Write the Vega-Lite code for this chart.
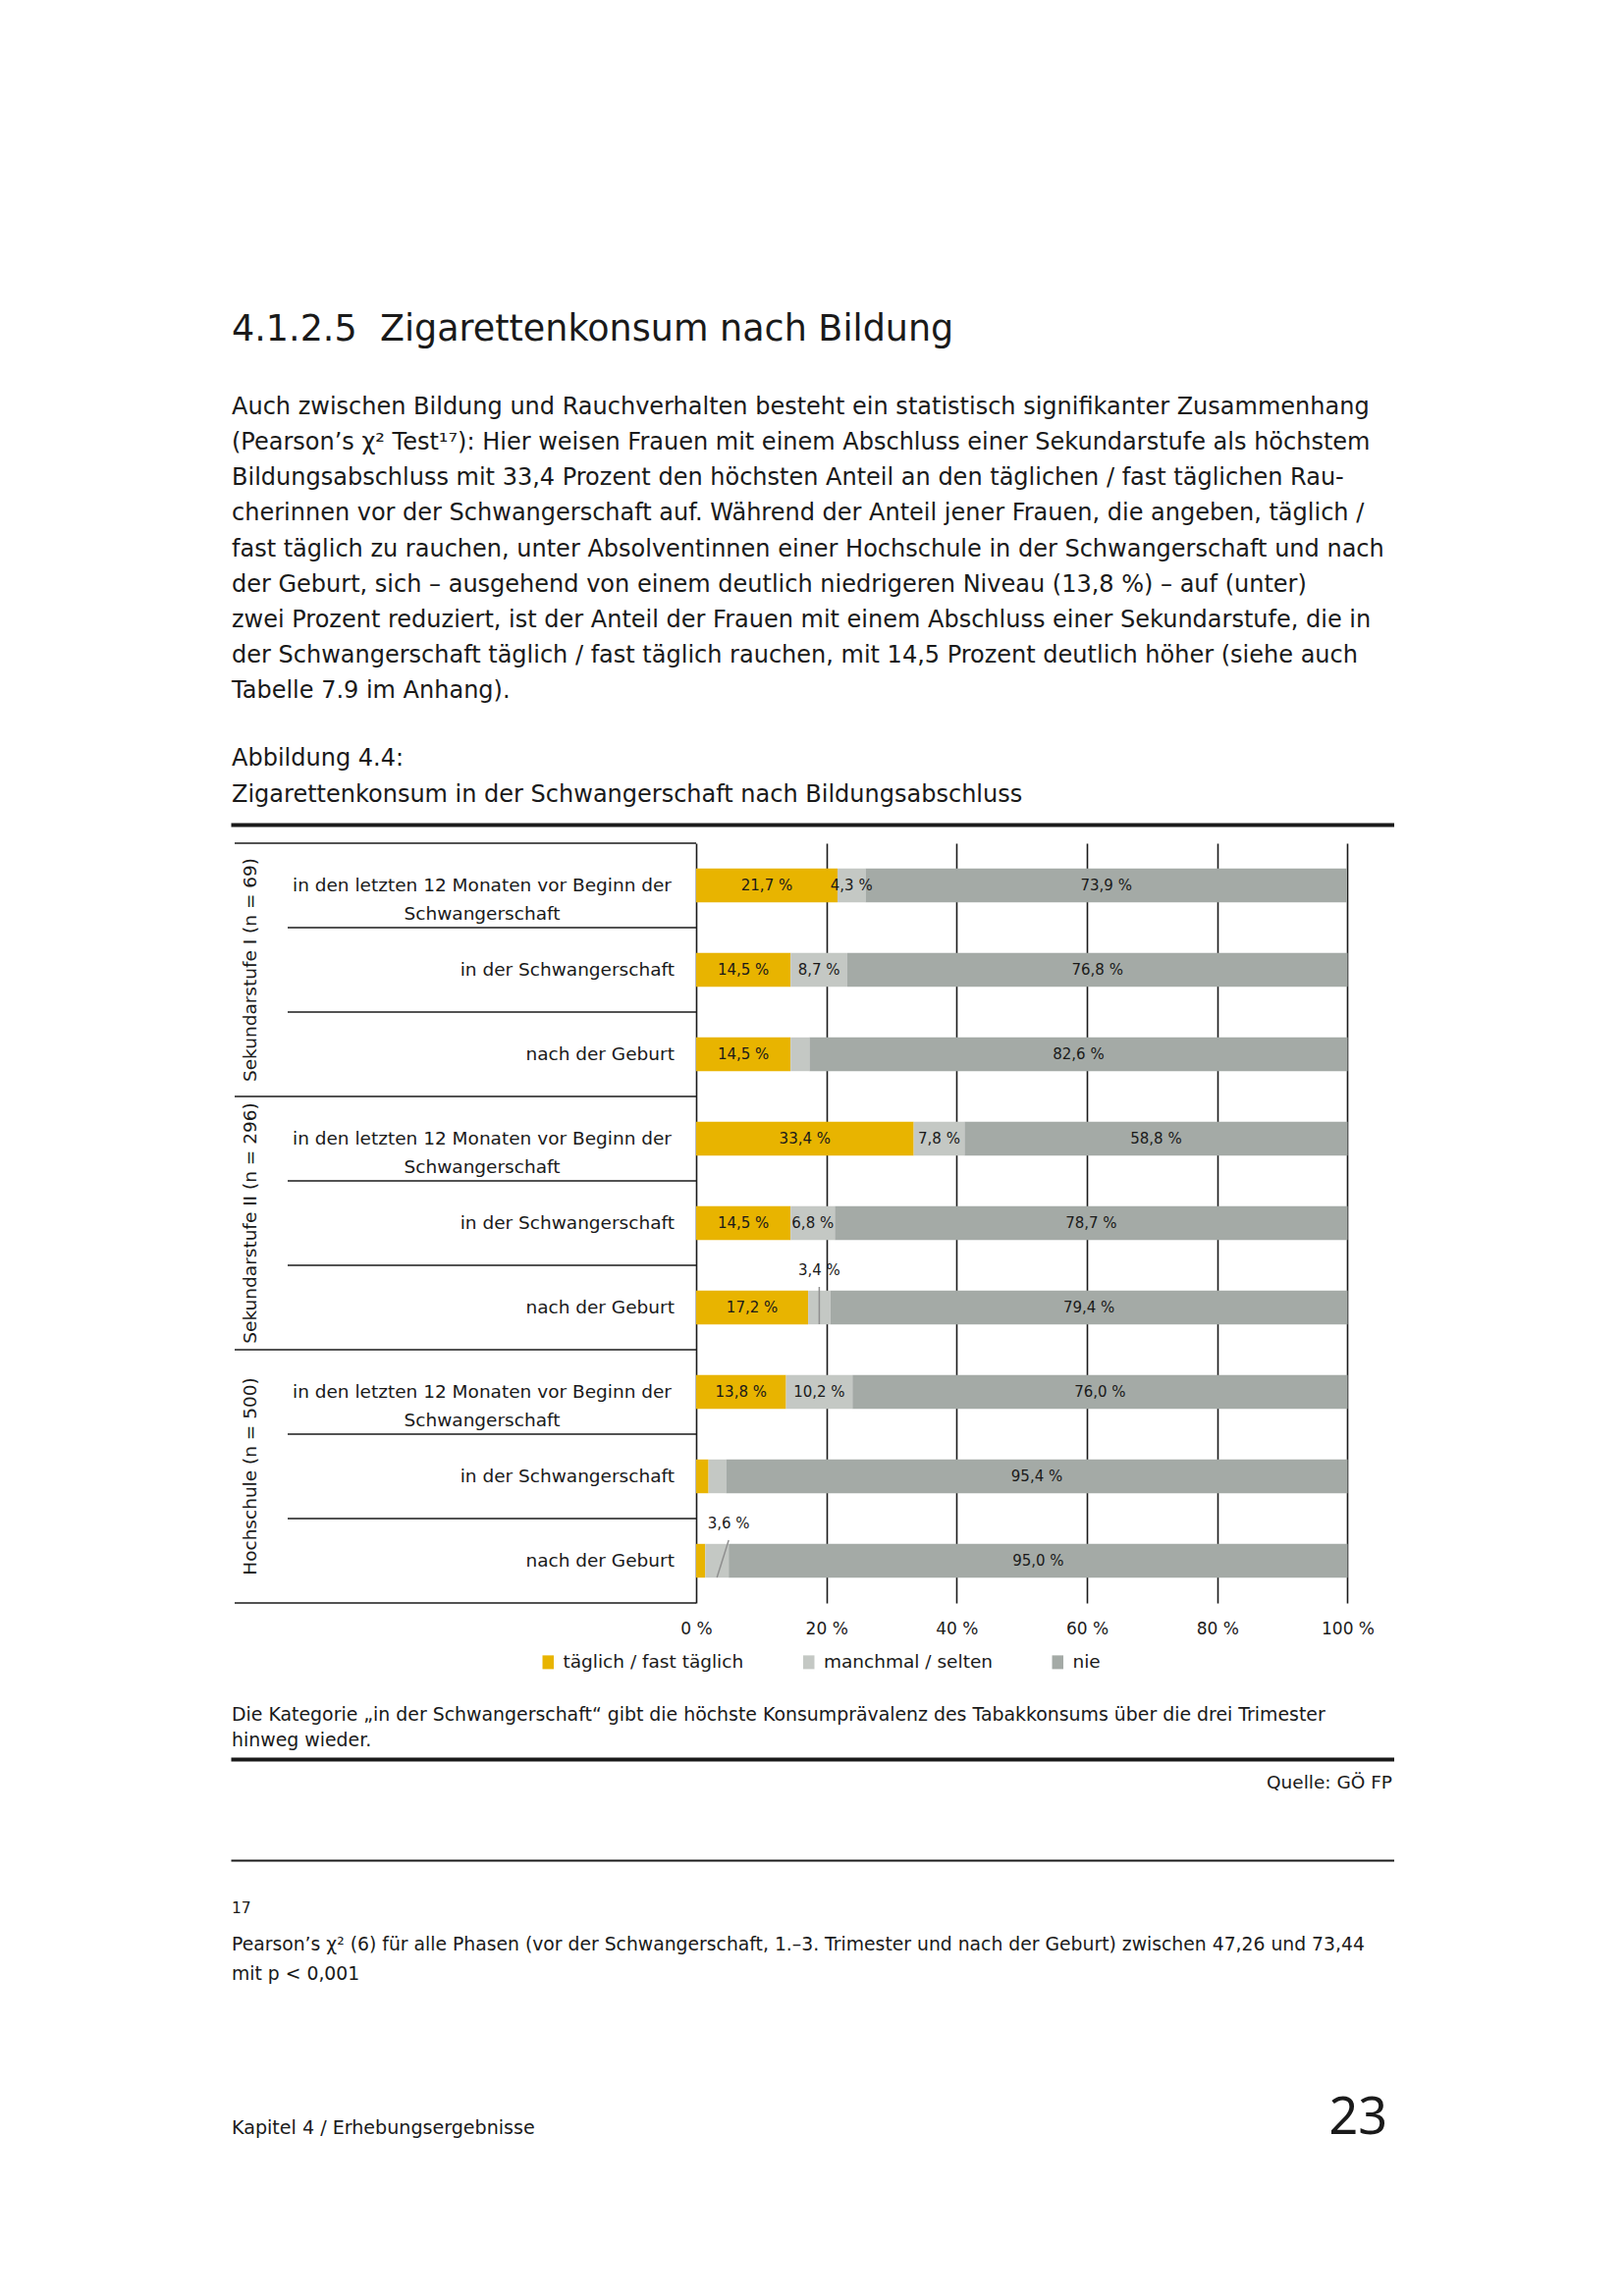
{
  "$schema": "https://vega.github.io/schema/vega-lite/v6.json",
  "background": "white",
  "padding": {"left": 235, "top": 300, "right": 0, "bottom": 0},
  "spacing": 0,
  "bounds": "flush",
  "config": {
    "view": {"stroke": null},
    "font": "DejaVu Sans",
    "text": {"font": "DejaVu Sans", "color": "#1a1a1a"},
    "axis": {"domainColor": "#1a1a1a", "labelFont": "DejaVu Sans", "labelColor": "#1a1a1a"},
    "legend": {"labelFont": "DejaVu Sans", "labelColor": "#1a1a1a"}
  },
  "datasets": {
    "heading": [{"line": 0, "text": "4.1.2.5\u00a0 Zigarettenkonsum nach Bildung"}],
    "body": [
      {"line": 0, "text": "Auch zwischen Bildung und Rauchverhalten besteht ein statistisch signifikanter Zusammenhang"},
      {"line": 1, "text": "(Pearson’s χ² Test¹⁷): Hier weisen Frauen mit einem Abschluss einer Sekundarstufe als höchstem"},
      {"line": 2, "text": "Bildungsabschluss mit 33,4 Prozent den höchsten Anteil an den täglichen / fast täglichen Rau-"},
      {"line": 3, "text": "cherinnen vor der Schwangerschaft auf. Während der Anteil jener Frauen, die angeben, täglich /"},
      {"line": 4, "text": "fast täglich zu rauchen, unter Absolventinnen einer Hochschule in der Schwangerschaft und nach"},
      {"line": 5, "text": "der Geburt, sich – ausgehend von einem deutlich niedrigeren Niveau (13,8 %) – auf (unter)"},
      {"line": 6, "text": "zwei Prozent reduziert, ist der Anteil der Frauen mit einem Abschluss einer Sekundarstufe, die in"},
      {"line": 7, "text": "der Schwangerschaft täglich / fast täglich rauchen, mit 14,5 Prozent deutlich höher (siehe auch"},
      {"line": 8, "text": "Tabelle 7.9 im Anhang)."}
    ],
    "caption": [
      {"line": 0, "text": "Abbildung 4.4:"},
      {"line": 1, "text": "Zigarettenkonsum in der Schwangerschaft nach Bildungsabschluss"}
    ],
    "rows": [
      {"row": "S1-1", "pos": 1, "group": "Sekundarstufe I (n = 69)", "phase": "in den letzten 12 Monaten vor Beginn der\nSchwangerschaft"},
      {"row": "S1-2", "pos": 2, "group": "Sekundarstufe I (n = 69)", "phase": "in der Schwangerschaft"},
      {"row": "S1-3", "pos": 3, "group": "Sekundarstufe I (n = 69)", "phase": "nach der Geburt"},
      {"row": "S2-1", "pos": 1, "group": "Sekundarstufe II (n = 296)", "phase": "in den letzten 12 Monaten vor Beginn der\nSchwangerschaft"},
      {"row": "S2-2", "pos": 2, "group": "Sekundarstufe II (n = 296)", "phase": "in der Schwangerschaft"},
      {"row": "S2-3", "pos": 3, "group": "Sekundarstufe II (n = 296)", "phase": "nach der Geburt"},
      {"row": "H-1", "pos": 1, "group": "Hochschule (n = 500)", "phase": "in den letzten 12 Monaten vor Beginn der\nSchwangerschaft"},
      {"row": "H-2", "pos": 2, "group": "Hochschule (n = 500)", "phase": "in der Schwangerschaft"},
      {"row": "H-3", "pos": 3, "group": "Hochschule (n = 500)", "phase": "nach der Geburt"}
    ],
    "bars": [
      {"row": "S1-1", "cat": "täglich / fast täglich", "k": 1, "value": 21.7, "label": "21,7 %"},
      {"row": "S1-1", "cat": "manchmal / selten", "k": 2, "value": 4.3, "label": "4,3 %"},
      {"row": "S1-1", "cat": "nie", "k": 3, "value": 73.9, "label": "73,9 %"},
      {"row": "S1-2", "cat": "täglich / fast täglich", "k": 1, "value": 14.5, "label": "14,5 %"},
      {"row": "S1-2", "cat": "manchmal / selten", "k": 2, "value": 8.7, "label": "8,7 %"},
      {"row": "S1-2", "cat": "nie", "k": 3, "value": 76.8, "label": "76,8 %"},
      {"row": "S1-3", "cat": "täglich / fast täglich", "k": 1, "value": 14.5, "label": "14,5 %"},
      {"row": "S1-3", "cat": "manchmal / selten", "k": 2, "value": 2.9, "label": ""},
      {"row": "S1-3", "cat": "nie", "k": 3, "value": 82.6, "label": "82,6 %"},
      {"row": "S2-1", "cat": "täglich / fast täglich", "k": 1, "value": 33.4, "label": "33,4 %"},
      {"row": "S2-1", "cat": "manchmal / selten", "k": 2, "value": 7.8, "label": "7,8 %"},
      {"row": "S2-1", "cat": "nie", "k": 3, "value": 58.8, "label": "58,8 %"},
      {"row": "S2-2", "cat": "täglich / fast täglich", "k": 1, "value": 14.5, "label": "14,5 %"},
      {"row": "S2-2", "cat": "manchmal / selten", "k": 2, "value": 6.8, "label": "6,8 %"},
      {"row": "S2-2", "cat": "nie", "k": 3, "value": 78.7, "label": "78,7 %"},
      {"row": "S2-3", "cat": "täglich / fast täglich", "k": 1, "value": 17.2, "label": "17,2 %"},
      {"row": "S2-3", "cat": "manchmal / selten", "k": 2, "value": 3.4, "label": ""},
      {"row": "S2-3", "cat": "nie", "k": 3, "value": 79.4, "label": "79,4 %"},
      {"row": "H-1", "cat": "täglich / fast täglich", "k": 1, "value": 13.8, "label": "13,8 %"},
      {"row": "H-1", "cat": "manchmal / selten", "k": 2, "value": 10.2, "label": "10,2 %"},
      {"row": "H-1", "cat": "nie", "k": 3, "value": 76.0, "label": "76,0 %"},
      {"row": "H-2", "cat": "täglich / fast täglich", "k": 1, "value": 1.9, "label": ""},
      {"row": "H-2", "cat": "manchmal / selten", "k": 2, "value": 2.7, "label": ""},
      {"row": "H-2", "cat": "nie", "k": 3, "value": 95.4, "label": "95,4 %"},
      {"row": "H-3", "cat": "täglich / fast täglich", "k": 1, "value": 1.4, "label": ""},
      {"row": "H-3", "cat": "manchmal / selten", "k": 2, "value": 3.6, "label": ""},
      {"row": "H-3", "cat": "nie", "k": 3, "value": 95.0, "label": "95,0 %"}
    ],
    "callouts": [
      {"row": "S2-3", "label": "3,4 %", "top": 18.9, "foot": 18.9},
      {"row": "H-3", "label": "3,6 %", "top": 5.0, "foot": 3.2}
    ],
    "note": [
      {"line": 0, "text": "Die Kategorie „in der Schwangerschaft“ gibt die höchste Konsumprävalenz des Tabakkonsums über die drei Trimester"},
      {"line": 1, "text": "hinweg wieder."}
    ],
    "source": [{"line": 0, "text": "Quelle: GÖ FP"}],
    "fnnum": [{"line": 0, "text": "17"}],
    "footnote": [
      {"line": 0, "text": "Pearson’s χ² (6) für alle Phasen (vor der Schwangerschaft, 1.–3. Trimester und nach der Geburt) zwischen 47,26 und 73,44"},
      {"line": 1, "text": "mit p < 0,001"}
    ],
    "footer": [
      {"line": 0, "part": "chapter", "text": "Kapitel 4 / Erhebungsergebnisse"},
      {"line": 0, "part": "page", "text": "23"}
    ]
  },
  "vconcat": [
    {
      "width": 1185, "height": 72,
      "data": {"name": "heading"},
      "mark": {"type": "text", "align": "left", "baseline": "middle", "fontSize": 36.5, "dx": 1},
      "encoding": {
        "y": {"field": "line", "type": "quantitative", "axis": null, "scale": {"domain": [-0.5, 0.5], "reverse": true, "nice": false, "zero": false}},
        "x": {"datum": 0, "type": "quantitative", "axis": null, "scale": {"domain": [0, 1], "nice": false, "zero": false}},
        "text": {"field": "text"}
      }
    },
    {
      "width": 1185, "height": 375,
      "data": {"name": "body"},
      "mark": {"type": "text", "align": "left", "baseline": "middle", "fontSize": 24, "dx": 1},
      "encoding": {
        "y": {"field": "line", "type": "quantitative", "axis": null, "scale": {"domain": [-1.1902, 9.1898], "reverse": true, "nice": false, "zero": false}},
        "x": {"datum": 0, "type": "quantitative", "axis": null, "scale": {"domain": [0, 1], "nice": false, "zero": false}},
        "text": {"field": "text"}
      }
    },
    {
      "width": 1185, "height": 112,
      "data": {"name": "caption"},
      "mark": {"type": "text", "align": "left", "baseline": "middle", "fontSize": 24, "dx": 1},
      "encoding": {
        "y": {"field": "line", "type": "quantitative", "axis": null, "scale": {"domain": [-0.7027, 2.3243], "reverse": true, "nice": false, "zero": false}},
        "x": {"datum": 0, "type": "quantitative", "scale": {"domain": [0, 1], "nice": false, "zero": false},
              "axis": {"title": null, "labels": false, "ticks": false, "grid": false, "domain": true, "domainWidth": 4, "domainColor": "#1a1a1a", "offset": -19}},
        "text": {"field": "text"}
      }
    },
    {
      "width": 1185, "height": 774,
      "layer": [
        {
          "data": {"name": "bars"},
          "transform": [{"stack": "value", "groupby": ["row"], "sort": [{"field": "k", "order": "ascending"}], "as": ["x0", "x1"]}],
          "mark": {"type": "bar", "height": {"band": 0.4}},
          "encoding": {
            "y": {"field": "row", "type": "nominal", "axis": null,
                  "scale": {"domain": ["S1-1", "S1-2", "S1-3", "S2-1", "S2-2", "S2-3", "H-1", "H-2", "H-3"], "paddingInner": 0, "paddingOuter": 0}},
            "x": {"field": "x0", "type": "quantitative",
                  "scale": {"domain": [-71.44, 107.16], "nice": false, "zero": false},
                  "axis": {"values": [0, 20, 40, 60, 80, 100], "grid": true, "gridColor": "#1a1a1a", "gridWidth": 1.6, "domain": false, "ticks": false,
                           "labelExpr": "datum.value + ' %'", "labelFontSize": 17, "labelPadding": 18, "title": null,
                           "labelFlush": false, "labelOverlap": false, "labelBound": false}},
            "x2": {"field": "x1"},
            "color": {"field": "cat", "type": "nominal",
                      "scale": {"domain": ["täglich / fast täglich", "manchmal / selten", "nie"], "range": ["#E8B400", "#C4C8C4", "#A4AAA6"]},
                      "legend": {"orient": "none", "legendX": 314, "legendY": 1384, "direction": "horizontal", "title": null,
                                 "symbolType": "M-0.82,-1H0.82V1H-0.82Z", "symbolSize": 196, "symbolStrokeWidth": 0, "symbolOpacity": 1,
                                 "labelFontSize": 18.5, "labelOffset": 6, "labelLimit": 400, "columnPadding": 56.5, "padding": 0}}
          }
        },
        {
          "data": {"name": "bars"},
          "transform": [
            {"stack": "value", "groupby": ["row"], "sort": [{"field": "k", "order": "ascending"}], "as": ["x0", "x1"]},
            {"fold": ["x0", "x1"], "as": ["edge", "edgeValue"]},
            {"aggregate": [{"op": "mean", "field": "edgeValue", "as": "mid"}], "groupby": ["row", "cat", "label"]}
          ],
          "mark": {"type": "text", "align": "center", "baseline": "middle", "fontSize": 15},
          "encoding": {
            "y": {"field": "row", "type": "nominal"},
            "x": {"field": "mid", "type": "quantitative"},
            "text": {"field": "label"}
          }
        },
        {
          "data": {"name": "callouts"},
          "mark": {"type": "rule", "color": "#8f8f8f", "strokeWidth": 1.5, "yOffset": -21, "y2Offset": 17},
          "encoding": {
            "y": {"field": "row", "type": "nominal", "bandPosition": 0.5},
            "y2": {"field": "row", "bandPosition": 0.5},
            "x": {"field": "top", "type": "quantitative"},
            "x2": {"field": "foot"}
          }
        },
        {
          "data": {"name": "callouts"},
          "mark": {"type": "text", "align": "center", "baseline": "middle", "fontSize": 15, "yOffset": -38},
          "encoding": {
            "y": {"field": "row", "type": "nominal"},
            "x": {"field": "top", "type": "quantitative"},
            "text": {"field": "label"}
          }
        },
        {
          "data": {"name": "rows"},
          "transform": [{"filter": "datum.pos == 1"}],
          "mark": {"type": "rule", "color": "#1a1a1a", "strokeWidth": 1.6},
          "encoding": {
            "y": {"field": "row", "type": "nominal", "bandPosition": 0},
            "x": {"datum": -70.84},
            "x2": {"datum": 0}
          }
        },
        {
          "data": {"name": "rows"},
          "transform": [{"filter": "datum.row == 'H-3'"}],
          "mark": {"type": "rule", "color": "#1a1a1a", "strokeWidth": 1.6},
          "encoding": {
            "y": {"field": "row", "type": "nominal", "bandPosition": 1},
            "x": {"datum": -70.84},
            "x2": {"datum": 0}
          }
        },
        {
          "data": {"name": "rows"},
          "transform": [{"filter": "datum.pos > 1"}],
          "mark": {"type": "rule", "color": "#1a1a1a", "strokeWidth": 1.6},
          "encoding": {
            "y": {"field": "row", "type": "nominal", "bandPosition": 0},
            "x": {"datum": -62.7},
            "x2": {"datum": 0}
          }
        },
        {
          "data": {"name": "rows"},
          "transform": [{"filter": "datum.pos == 1"}],
          "mark": {"type": "text", "align": "center", "baseline": "middle", "fontSize": 18.5, "lineBreak": "\n", "lineHeight": 29},
          "encoding": {
            "y": {"field": "row", "type": "nominal"},
            "x": {"datum": -32.86},
            "text": {"field": "phase"}
          }
        },
        {
          "data": {"name": "rows"},
          "transform": [{"filter": "datum.pos > 1"}],
          "mark": {"type": "text", "align": "right", "baseline": "middle", "fontSize": 18.5},
          "encoding": {
            "y": {"field": "row", "type": "nominal"},
            "x": {"datum": -3.33},
            "text": {"field": "phase"}
          }
        },
        {
          "data": {"name": "rows"},
          "transform": [{"filter": "datum.pos == 2"}],
          "mark": {"type": "text", "align": "center", "baseline": "middle", "fontSize": 18.5, "angle": 270},
          "encoding": {
            "y": {"field": "row", "type": "nominal"},
            "x": {"datum": -68.42},
            "text": {"field": "group"}
          }
        }
      ]
    },
    {
      "width": 1185, "height": 159,
      "data": {"name": "note"},
      "mark": {"type": "text", "align": "left", "baseline": "middle", "fontSize": 18.9, "dx": 1},
      "encoding": {
        "y": {"field": "line", "type": "quantitative", "axis": null, "scale": {"domain": [-4.3846, 1.7308], "reverse": true, "nice": false, "zero": false}},
        "x": {"datum": 0, "type": "quantitative", "scale": {"domain": [0, 1], "nice": false, "zero": false},
              "axis": {"title": null, "labels": false, "ticks": false, "grid": false, "domain": true, "domainWidth": 4, "domainColor": "#1a1a1a"}},
        "text": {"field": "text"}
      }
    },
    {
      "width": 1185, "height": 103,
      "data": {"name": "source"},
      "mark": {"type": "text", "align": "right", "baseline": "middle", "fontSize": 18.5, "dx": -2},
      "encoding": {
        "y": {"field": "line", "type": "quantitative", "axis": null, "scale": {"domain": [-0.79, 2.6433], "reverse": true, "nice": false, "zero": false}},
        "x": {"datum": 1, "type": "quantitative", "scale": {"domain": [0, 1], "nice": false, "zero": false},
              "axis": {"title": null, "labels": false, "ticks": false, "grid": false, "domain": true, "domainWidth": 2, "domainColor": "#1a1a1a"}},
        "text": {"field": "text"}
      }
    },
    {
      "width": 1185, "height": 67,
      "data": {"name": "fnnum"},
      "mark": {"type": "text", "align": "left", "baseline": "middle", "fontSize": 15.5, "dx": 1},
      "encoding": {
        "y": {"field": "line", "type": "quantitative", "axis": null, "scale": {"domain": [-1.6333, 0.6], "reverse": true, "nice": false, "zero": false}},
        "x": {"datum": 0, "type": "quantitative", "axis": null, "scale": {"domain": [0, 1], "nice": false, "zero": false}},
        "text": {"field": "text"}
      }
    },
    {
      "width": 1185, "height": 78,
      "data": {"name": "footnote"},
      "mark": {"type": "text", "align": "left", "baseline": "middle", "fontSize": 18.8, "dx": 1},
      "encoding": {
        "y": {"field": "line", "type": "quantitative", "axis": null, "scale": {"domain": [-0.6233, 1.9767], "reverse": true, "nice": false, "zero": false}},
        "x": {"datum": 0, "type": "quantitative", "axis": null, "scale": {"domain": [0, 1], "nice": false, "zero": false}},
        "text": {"field": "text"}
      }
    },
    {
      "width": 1185, "height": 160,
      "data": {"name": "footer"},
      "encoding": {
        "y": {"field": "line", "type": "quantitative", "axis": null, "scale": {"domain": [-4.45, 0.8833], "reverse": true, "nice": false, "zero": false}}
      },
      "layer": [
        {
          "transform": [{"filter": "datum.part == 'chapter'"}],
          "mark": {"type": "text", "align": "left", "baseline": "alphabetic", "fontSize": 19.1, "dx": 1},
          "encoding": {
            "x": {"datum": 0, "type": "quantitative", "axis": null, "scale": {"domain": [0, 1], "nice": false, "zero": false}},
            "text": {"field": "text"}
          }
        },
        {
          "transform": [{"filter": "datum.part == 'page'"}],
          "mark": {"type": "text", "align": "right", "baseline": "alphabetic", "fontSize": 52, "font": "Noto Sans", "dx": -7},
          "encoding": {
            "x": {"datum": 1, "type": "quantitative"},
            "text": {"field": "text"}
          }
        }
      ]
    }
  ]
}
